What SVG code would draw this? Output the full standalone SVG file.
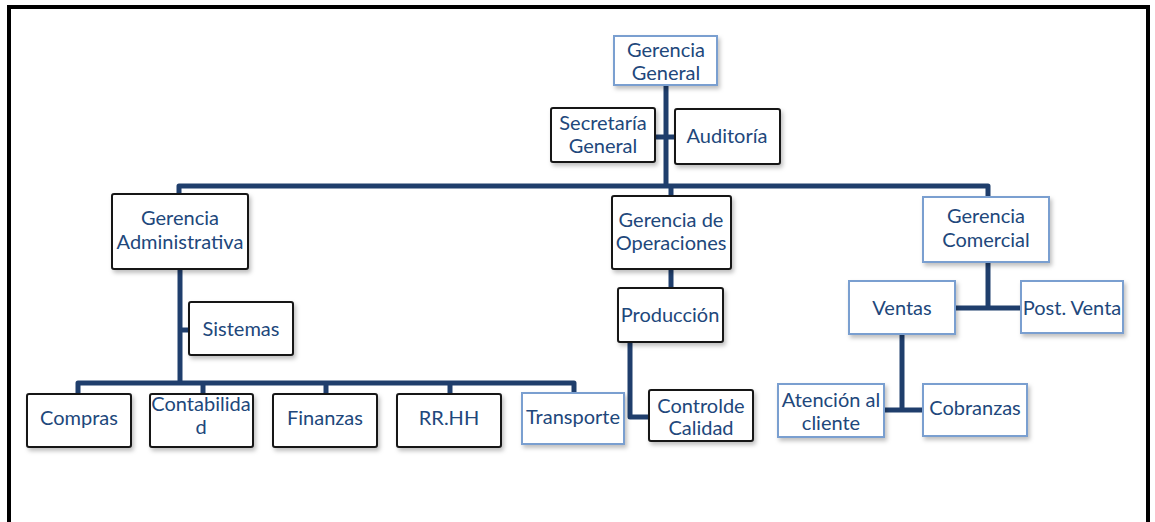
<svg xmlns="http://www.w3.org/2000/svg" width="1155" height="522" viewBox="0 0 1155 522">
  <style>
    .box { fill: #ffffff; stroke: #141414; stroke-width: 2; filter: url(#shadow); }
    .box-alt { fill: #ffffff; stroke: #7a9fd0; stroke-width: 2; filter: url(#shadow); }
    .label { font-family: Lato, "Liberation Sans", sans-serif; font-size: 20px; fill: #21477b; text-anchor: middle; }
    .link { fill: none; stroke: #1f3e6c; stroke-width: 5; stroke-linejoin: round; stroke-linecap: butt; }
    .frame { fill: none; stroke: #000000; stroke-width: 4; }
  </style>
  <defs>
    <filter id="shadow" x="-10%" y="-10%" width="130%" height="140%">
      <feDropShadow dx="2" dy="3" stdDeviation="2" flood-color="#000000" flood-opacity="0.25"/>
    </filter>
  </defs>

  <rect width="1155" height="522" fill="#ffffff"/>
  <!-- page frame, open at the bottom -->
  <path class="frame" d="M9,530 V7 H1148 V530"/>

  <!-- connectors -->
  <g id="connectors">
    <path class="link" d="M666,85 V186"/>
    <path class="link" d="M655,137 H675"/>
    <path class="link" d="M179,196 V186 H988 V198"/>
    <path class="link" d="M671,186 V196"/>
    <!-- administrative branch -->
    <path class="link" d="M180,269 V383"/>
    <path class="link" d="M180,330 H189"/>
    <path class="link" d="M78,394 V383 H574 V393"/>
    <path class="link" d="M203,383 V394"/>
    <path class="link" d="M326,383 V394"/>
    <path class="link" d="M450,383 V394"/>
    <!-- operations branch -->
    <path class="link" d="M671,269 V288"/>
    <path class="link" d="M630,342 V417 H649"/>
    <!-- commercial branch -->
    <path class="link" d="M988,262 V308"/>
    <path class="link" d="M955,308 H1021"/>
    <path class="link" d="M902,334 V410"/>
    <path class="link" d="M884,410 H923"/>
  </g>

  <g id="gerencia-general">
    <rect class="box-alt" x="614" y="36" width="103" height="49"/>
    <text class="label" x="666" y="57">Gerencia</text>
    <text class="label" x="666" y="80">General</text>
  </g>
  <g id="secretaria-general">
    <rect class="box" x="551" y="108" width="104" height="54" rx="2"/>
    <text class="label" x="603" y="130">Secretaría</text>
    <text class="label" x="603" y="153">General</text>
  </g>
  <g id="auditoria">
    <rect class="box" x="675" y="109" width="105" height="55" rx="2"/>
    <text class="label" x="727" y="143">Auditoría</text>
  </g>

  <g id="gerencia-administrativa">
    <rect class="box" x="112" y="194" width="136" height="75" rx="2"/>
    <text class="label" x="180" y="225">Gerencia</text>
    <text class="label" x="180" y="249">Administrativa</text>
  </g>
  <g id="sistemas">
    <rect class="box" x="189" y="302" width="104" height="53" rx="2"/>
    <text class="label" x="241" y="336">Sistemas</text>
  </g>
  <g id="compras">
    <rect class="box" x="27" y="394" width="104" height="53" rx="2"/>
    <text class="label" x="79" y="425">Compras</text>
  </g>
  <g id="contabilidad">
    <rect class="box" x="150" y="394" width="103" height="53" rx="2"/>
    <text class="label" x="201" y="411">Contabilida</text>
    <text class="label" x="201" y="434">d</text>
  </g>
  <g id="finanzas">
    <rect class="box" x="273" y="394" width="104" height="53" rx="2"/>
    <text class="label" x="325" y="425">Finanzas</text>
  </g>
  <g id="rrhh">
    <rect class="box" x="397" y="394" width="104" height="53" rx="2"/>
    <text class="label" x="449" y="425">RR.HH</text>
  </g>
  <g id="transporte">
    <rect class="box-alt" x="522" y="393" width="102" height="51"/>
    <text class="label" x="573" y="424">Transporte</text>
  </g>

  <g id="gerencia-operaciones">
    <rect class="box" x="612" y="196" width="119" height="73" rx="2"/>
    <text class="label" x="671" y="227">Gerencia de</text>
    <text class="label" x="671" y="250">Operaciones</text>
  </g>
  <g id="produccion">
    <rect class="box" x="618" y="288" width="105" height="54" rx="2"/>
    <text class="label" x="670" y="322">Producción</text>
  </g>
  <g id="control-calidad">
    <rect class="box" x="649" y="390" width="104" height="51" rx="2"/>
    <text class="label" x="701" y="413">Controlde</text>
    <text class="label" x="701" y="435">Calidad</text>
  </g>

  <g id="gerencia-comercial">
    <rect class="box-alt" x="923" y="197" width="126" height="65"/>
    <text class="label" x="986" y="223">Gerencia</text>
    <text class="label" x="986" y="247">Comercial</text>
  </g>
  <g id="ventas">
    <rect class="box-alt" x="849" y="281" width="106" height="53"/>
    <text class="label" x="902" y="315">Ventas</text>
  </g>
  <g id="post-venta">
    <rect class="box-alt" x="1021" y="281" width="102" height="52"/>
    <text class="label" x="1072" y="315">Post. Venta</text>
  </g>
  <g id="atencion-cliente">
    <rect class="box-alt" x="778" y="384" width="106" height="53"/>
    <text class="label" x="831" y="407">Atención al</text>
    <text class="label" x="831" y="430">cliente</text>
  </g>
  <g id="cobranzas">
    <rect class="box-alt" x="923" y="384" width="104" height="52"/>
    <text class="label" x="975" y="415">Cobranzas</text>
  </g>
</svg>
